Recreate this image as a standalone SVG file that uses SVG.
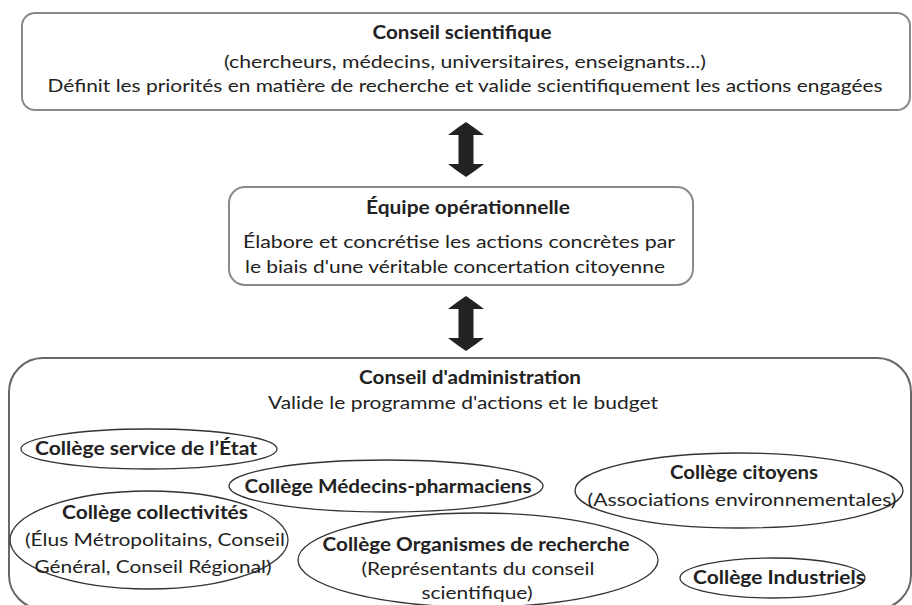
<svg xmlns="http://www.w3.org/2000/svg" width="912" height="605" viewBox="0 0 912 605">
  <style>
    text { font-family: Lato, "Open Sans", "Liberation Sans", sans-serif; font-size: 18px; fill: #222; text-anchor: middle; }
    .b { font-weight: bold; }
    .box { fill: #fff; stroke: #8a8a8a; stroke-width: 2; }
    .outer { fill: #fff; stroke: #666; stroke-width: 2; }
    .oval { fill: none; stroke: #333; stroke-width: 1.3; }
    .arrow { fill: #222; }
  </style>
  <rect width="912" height="605" fill="#fff"/>

  <!-- Scientific council -->
  <g id="conseil-scientifique">
    <rect class="box" x="22" y="13" width="888" height="97" rx="13"/>
    <text class="b" x="462" y="39" textLength="179" lengthAdjust="spacingAndGlyphs">Conseil scientifique</text>
    <text x="465" y="68" textLength="482" lengthAdjust="spacingAndGlyphs">(chercheurs, médecins, universitaires, enseignants...)</text>
    <text x="465" y="92" textLength="835" lengthAdjust="spacingAndGlyphs">Définit les priorités en matière de recherche et valide scientifiquement les actions engagées</text>
  </g>

  <!-- Operational team -->
  <g id="equipe-operationnelle">
    <rect class="box" x="229" y="187" width="464" height="98" rx="16"/>
    <text class="b" x="468" y="214" textLength="204" lengthAdjust="spacingAndGlyphs">Équipe opérationnelle</text>
    <text x="459" y="248" textLength="432" lengthAdjust="spacingAndGlyphs">Élabore et concrétise les actions concrètes par</text>
    <text x="455" y="273" textLength="420" lengthAdjust="spacingAndGlyphs">le biais d'une véritable concertation citoyenne</text>
  </g>

  <!-- Board of directors with its colleges -->
  <g id="conseil-administration">
    <rect class="outer" x="9" y="358" width="902" height="251" rx="34"/>
    <text class="b" x="470" y="384" textLength="222" lengthAdjust="spacingAndGlyphs">Conseil d'administration</text>
    <text x="463" y="409" textLength="390" lengthAdjust="spacingAndGlyphs">Valide le programme d'actions et le budget</text>
  </g>

  <g id="college-etat">
    <ellipse class="oval" cx="149" cy="449" rx="128" ry="20"/>
    <text class="b" x="146" y="455" textLength="222" lengthAdjust="spacingAndGlyphs">Collège service de l’État</text>
  </g>

  <g id="college-medecins">
    <ellipse class="oval" cx="386" cy="486" rx="157" ry="26"/>
    <text class="b" x="388" y="493" textLength="287" lengthAdjust="spacingAndGlyphs">Collège Médecins-pharmaciens</text>
  </g>

  <g id="college-citoyens">
    <ellipse class="oval" cx="739" cy="490.5" rx="164" ry="37.5"/>
    <text class="b" x="744" y="479" textLength="148" lengthAdjust="spacingAndGlyphs">Collège citoyens</text>
    <text x="742" y="506" textLength="309" lengthAdjust="spacingAndGlyphs">(Associations environnementales)</text>
  </g>

  <g id="college-collectivites">
    <ellipse class="oval" cx="149" cy="540" rx="139" ry="49"/>
    <text class="b" x="155" y="519" textLength="186" lengthAdjust="spacingAndGlyphs">Collège collectivités</text>
    <text x="155" y="546" textLength="260" lengthAdjust="spacingAndGlyphs">(Élus Métropolitains, Conseil</text>
    <text x="153" y="573" textLength="237" lengthAdjust="spacingAndGlyphs">Général, Conseil Régional)</text>
  </g>

  <g id="college-recherche">
    <ellipse class="oval" cx="478" cy="560" rx="180" ry="47"/>
    <text class="b" x="476" y="551" textLength="307" lengthAdjust="spacingAndGlyphs">Collège Organismes de recherche</text>
    <text x="478" y="575" textLength="233" lengthAdjust="spacingAndGlyphs">(Représentants du conseil</text>
    <text x="477" y="599" textLength="111" lengthAdjust="spacingAndGlyphs">scientifique)</text>
  </g>

  <g id="college-industriels">
    <ellipse class="oval" cx="772.5" cy="578" rx="92.5" ry="20"/>
    <text class="b" x="779" y="584" textLength="172" lengthAdjust="spacingAndGlyphs">Collège Industriels</text>
  </g>

  <!-- Two-way links between the three bodies -->
  <defs>
    <path id="two-way" d="M0,0 Q9,6 18,13 L7.5,13 L7.5,42 L18,42 Q9,49 0,55 Q-9,49 -18,42 L-7.5,42 L-7.5,13 L-18,13 Q-9,6 0,0 Z"/>
  </defs>
  <g id="connectors">
    <use class="arrow" href="#two-way" x="466" y="122"/>
    <use class="arrow" href="#two-way" x="466" y="296"/>
  </g>
</svg>
